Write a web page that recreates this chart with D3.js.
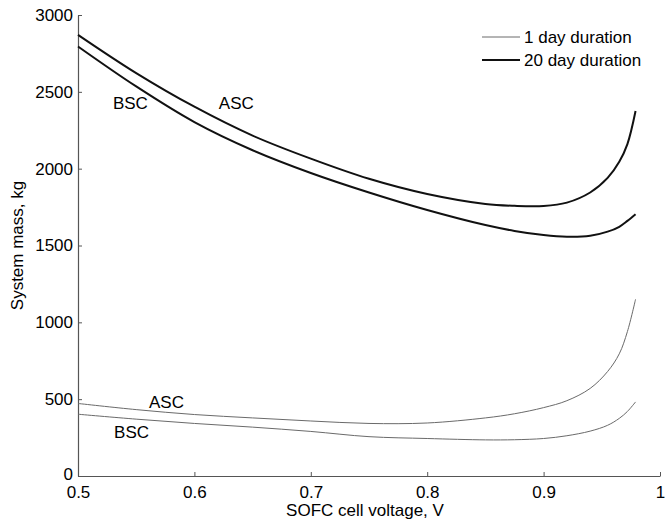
<!DOCTYPE html>
<html>
<head>
<meta charset="utf-8">
<script src="https://cdn.jsdelivr.net/npm/d3@7"></script>
<style>
  html, body { margin: 0; padding: 0; background: #fff; }
  svg text { font-family: "Liberation Sans", Arial, Helvetica, sans-serif; }
</style>
</head>
<body>
<svg id="chart" width="665" height="520"></svg>
<script>
// ---- data ----
const voltage = [0.50, 0.55, 0.60, 0.65, 0.70, 0.75, 0.80, 0.85, 0.875, 0.90, 0.92, 0.94, 0.955, 0.965, 0.972, 0.979];
const asc20 = [2871, 2622, 2403, 2215, 2065, 1934, 1835, 1770, 1758, 1757, 1779, 1845, 1940, 2045, 2160, 2375];
const bsc20 = [2795, 2535, 2303, 2120, 1972, 1845, 1731, 1633, 1595, 1568, 1557, 1563, 1590, 1622, 1660, 1703];
const asc1  = [472, 432, 400, 378, 358, 342, 345, 378, 405, 445, 490, 570, 680, 795, 940, 1150];
const bsc1  = [402, 370, 342, 318, 290, 256, 244, 235, 236, 244, 262, 292, 330, 375, 420, 482];
const xTicks = [0.5, 0.6, 0.7, 0.8, 0.9, 1];
const xTickLabels = ["0.5", "0.6", "0.7", "0.8", "0.9", "1"];
const yTicks = [0, 500, 1000, 1500, 2000, 2500, 3000];
const legendLabels = ["1 day duration", "20 day duration"];
const curveLabels = [
  {text: "BSC", v: 0.530, m: 2390},
  {text: "ASC", v: 0.621, m: 2390},
  {text: "ASC", v: 0.561, m: 440},
  {text: "BSC", v: 0.531, m: 250}
];

// ---- layout ----
const W = 665, H = 520;
const margin = {left: 78, right: 5, top: 15, bottom: 44};
const svg = d3.select("#chart");
const x = d3.scaleLinear().domain([0.5, 1]).range([margin.left, W - margin.right]);
const y = d3.scaleLinear().domain([0, 3000]).range([H - margin.bottom, margin.top]);
const axisColor = "#555";
const fs = 17;

// axes
const xAxis = svg.append("g")
  .attr("transform", `translate(0,${H - margin.bottom})`)
  .call(d3.axisBottom(x).tickValues(xTicks).tickFormat((d, i) => xTickLabels[i])
        .tickSizeInner(-4).tickSizeOuter(0).tickPadding(10));
const yAxis = svg.append("g")
  .attr("transform", `translate(${margin.left},0)`)
  .call(d3.axisLeft(y).tickValues(yTicks).tickFormat(d3.format("d"))
        .tickSizeInner(-4).tickSizeOuter(0).tickPadding(5));
[xAxis, yAxis].forEach(g => {
  g.select(".domain").attr("stroke", axisColor).attr("stroke-width", 1.2);
  g.selectAll(".tick line").attr("stroke", axisColor).attr("stroke-width", 1);
  g.selectAll(".tick text").attr("fill", "#000").style("font-size", fs + "px")
    .style("font-family", '"Liberation Sans", Arial, sans-serif');
});
// nudge the "0" label up a little so it doesn't collide with "0.5"
yAxis.selectAll(".tick text").filter(d => d === 0).attr("dy", "0.2em");

// axis titles
svg.append("text")
  .attr("x", (margin.left + W - margin.right) / 2 - 4)
  .attr("y", 516)
  .attr("text-anchor", "middle")
  .style("font-size", fs + "px")
  .text("SOFC cell voltage, V");
svg.append("text")
  .attr("transform", `translate(23,${(margin.top + H - margin.bottom) / 2}) rotate(-90)`)
  .attr("text-anchor", "middle")
  .style("font-size", fs + "px")
  .text("System mass, kg");

// lines
const line = d3.line().x(d => x(d[0])).y(d => y(d[1])).curve(d3.curveCatmullRom.alpha(0.5));
const series = [
  {vals: asc1, color: "#6a6a6a", w: 1},
  {vals: bsc1, color: "#6a6a6a", w: 1},
  {vals: asc20, color: "#111", w: 2},
  {vals: bsc20, color: "#111", w: 2}
];
series.forEach(s => {
  svg.append("path")
    .datum(voltage.map((v, i) => [v, s.vals[i]]))
    .attr("fill", "none")
    .attr("stroke", s.color)
    .attr("stroke-width", s.w)
    .attr("d", line);
});

// curve labels
curveLabels.forEach(l => {
  svg.append("text")
    .attr("x", x(l.v)).attr("y", y(l.m))
    .style("font-size", fs + "px")
    .text(l.text);
});

// legend
const legend = svg.append("g");
const legStyles = [{color: "#6a6a6a", w: 1}, {color: "#111", w: 2}];
legendLabels.forEach((lab, i) => {
  const ly = 37 + i * 23;
  legend.append("line")
    .attr("x1", 482).attr("x2", 520).attr("y1", ly).attr("y2", ly)
    .attr("stroke", legStyles[i].color).attr("stroke-width", legStyles[i].w);
  legend.append("text")
    .attr("x", 524).attr("y", ly + 6)
    .style("font-size", fs + "px")
    .text(lab);
});
</script>
</body>
</html>
